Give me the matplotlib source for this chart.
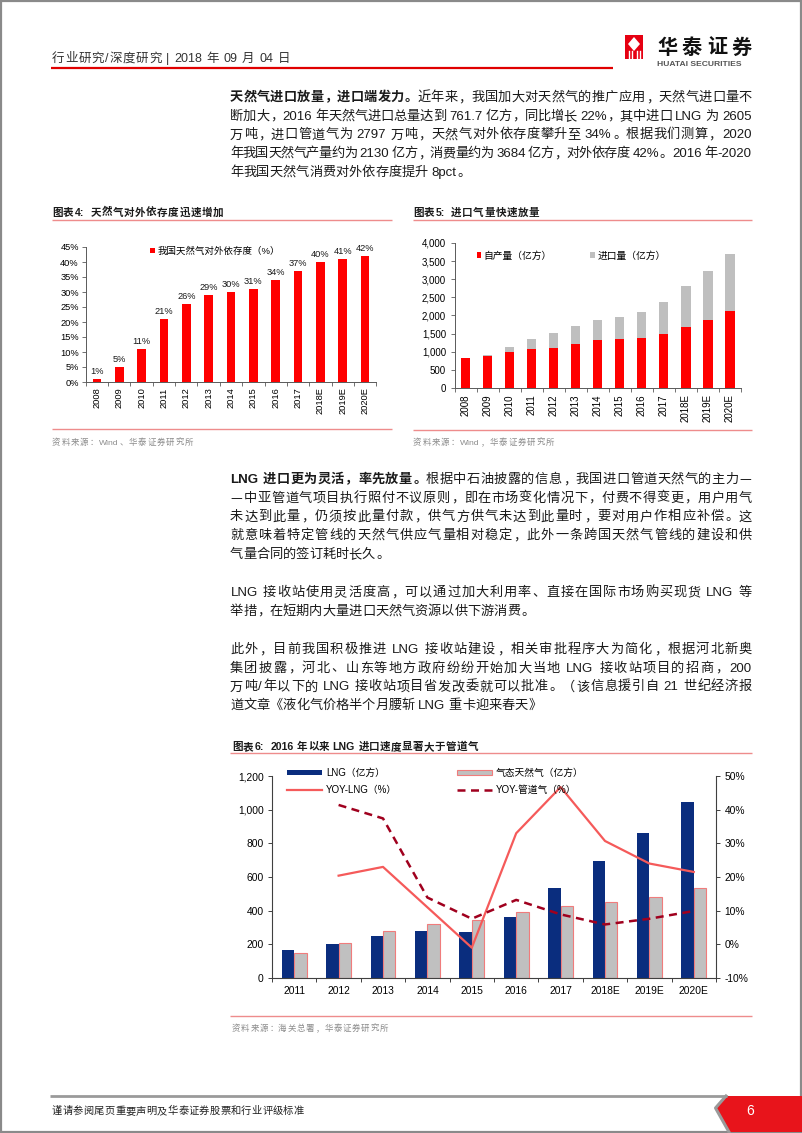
import numpy as np
import matplotlib
matplotlib.use('Agg')
import matplotlib.pyplot as plt
from matplotlib.patches import Patch, Rectangle, Polygon
from matplotlib.lines import Line2D

# ---------------- data ----------------
years_dep = ['2008', '2009', '2010', '2011', '2012', '2013', '2014', '2015',
             '2016', '2017', '2018E', '2019E', '2020E']
dependence_pct = [1, 5, 11, 21, 26, 29, 30, 31, 34, 37, 40, 41, 42]
dep_ticks = [0, 5, 10, 15, 20, 25, 30, 35, 40, 45]

years_supply = years_dep
production = [837, 892, 993, 1085, 1113, 1223, 1315, 1361, 1379, 1490, 1674, 1885, 2130]
imports = [0, 28, 129, 276, 395, 497, 570, 607, 727, 892, 1140, 1333, 1554]
supply_ticks = [0, 500, 1000, 1500, 2000, 2500, 3000, 3500, 4000]

years_lng = ['2011', '2012', '2013', '2014', '2015', '2016', '2017', '2018E', '2019E', '2020E']
lng = [168, 204, 251, 277, 273, 362, 534, 696, 860, 1046]
pipe_gas = [146, 206, 281, 322, 346, 391, 427, 453, 484, 534]
yoy_lng = [np.nan, 20.4, 23.0, 11.0, -1.0, 33.0, 46.7, 30.7, 24.0, 21.5]
yoy_pipe = [np.nan, 41.4, 37.4, 13.9, 7.6, 13.2, 8.9, 5.9, 7.6, 9.9]
lng_ticks = [0, 200, 400, 600, 800, 1000, 1200]
yoy_ticks = [-10, 0, 10, 20, 30, 40, 50]

# ---------------- page setup ----------------
W, H = 802, 1133
plt.rcParams['font.family'] = ['Liberation Sans', 'Noto Sans CJK SC']
plt.rcParams['axes.unicode_minus'] = False
fig = plt.figure(figsize=(W / 100, H / 100), dpi=100)
renderer = fig.canvas.get_renderer()

CJK = ['Noto Sans CJK SC']
LAT = ['Liberation Sans', 'Noto Sans CJK SC']
RED = '#FF0000'
GREY_BAR = '#BFBFBF'
NAVY = '#0A2D7E'
RULE = '#EE8C8C'
TXT = '#1a1a1a'


def fx(px):
    return px / W


def fy(py):
    return 1 - py / H


def is_wide(c):
    o = ord(c)
    return o >= 0x2E80 or c in '\u2014\u201c\u201d\u2018\u2019\u2026'


LEFT_P = set('，。、：；！？）》」')
RIGHT_P = set('（《「')


def tokenize(segs):
    toks = []
    for text, bold in segs:
        buf = ''
        for c in text:
            if c == ' ':
                if buf:
                    toks.append(('lat', buf, bold))
                    buf = ''
                toks.append(('sp', ' ', bold))
            elif is_wide(c):
                if buf:
                    toks.append(('lat', buf, bold))
                    buf = ''
                toks.append(('cjk', c, bold))
            else:
                buf += c
        if buf:
            toks.append(('lat', buf, bold))
    return toks


def draw_line(x0, ycen, segs, size, target=None, color=TXT):
    em = size * 100 / 72
    ybase = ycen + 0.38 * em
    toks = tokenize(segs)
    widths, arts = [], []
    for kind, s, bold in toks:
        if kind == 'cjk':
            widths.append(em)
            arts.append(None)
        elif kind == 'sp':
            widths.append(0.22 * em)
            arts.append(None)
        else:
            t = fig.text(0, 0, s, fontsize=size, family=LAT,
                         weight='bold' if bold else 'normal', color=color,
                         ha='left', va='baseline')
            bb = t.get_window_extent(renderer)
            widths.append(bb.width + 0.08 * em)
            arts.append(t)
    extra = 0.0
    if target is not None and len(toks) > 1:
        extra = (target - sum(widths)) / (len(toks) - 1)
    x = x0
    for (kind, s, bold), w, a in zip(toks, widths, arts):
        wt = 'bold' if bold else 'normal'
        if kind == 'cjk':
            if s in LEFT_P:
                fig.text(fx(x + 0.06 * em), fy(ybase), s, fontsize=size, family=CJK,
                         weight=wt, ha='left', va='baseline', color=color)
            elif s in RIGHT_P:
                fig.text(fx(x + w - 0.06 * em), fy(ybase), s, fontsize=size, family=CJK,
                         weight=wt, ha='right', va='baseline', color=color)
            else:
                fig.text(fx(x + w / 2), fy(ybase), s, fontsize=size, family=CJK,
                         weight=wt, ha='center', va='baseline', color=color)
        elif kind == 'lat':
            a.set_position((fx(x + 0.04 * em), fy(ybase)))
        x += w + extra


def hline(x0, x1, y, color, lw):
    fig.add_artist(Line2D([fx(x0), fx(x1)], [fy(y), fy(y)], transform=fig.transFigure,
                          color=color, lw=lw, solid_capstyle='butt'))


# page border
fig.add_artist(Rectangle((0.0008, 0.0008), 0.9984, 0.9984, transform=fig.transFigure,
                         fill=False, edgecolor='#8a8a8a', lw=1.6))

# ---------------- header ----------------
draw_line(52, 57, [('行业研究/深度研究 | 2018 年 09 月 04 日', False)], 9, target=238, color='#333333')
hline(51, 613, 67.5, '#E00000', 1.6)

# logo
fig.add_artist(Rectangle((fx(625), fy(59)), 18 / W, 24 / H, transform=fig.transFigure,
                         facecolor='#E60012', edgecolor='none'))
fig.add_artist(Polygon([(fx(634), fy(37)), (fx(640), fy(44)), (fx(634), fy(51)), (fx(628), fy(44))],
                       closed=True, transform=fig.transFigure, facecolor='white', edgecolor='none'))
for xx in (628.5, 631.5, 636.5, 639.5):
    fig.add_artist(Line2D([fx(xx), fx(xx)], [fy(51), fy(59)], transform=fig.transFigure,
                          color='white', lw=1.0))
draw_line(657, 46, [('华泰证券', True)], 14.5, target=95, color='#111111')
fig.text(fx(657), fy(65), 'HUATAI SECURITIES', fontsize=6.1, weight='bold',
         color='#555555', ha='left', va='center', family=LAT)

# ---------------- paragraph 1 ----------------
BODY = 9.5
P = 18.7
para1 = [
    [('天然气进口放量，进口端发力。', True), ('近年来，我国加大对天然气的推广应用，天然气进口量不', False)],
    [('断加大，2016 年天然气进口总量达到 761.7 亿方，同比增长 22%，其中进口 LNG 为 2605', False)],
    [('万吨，进口管道气为 2797 万吨，天然气对外依存度攀升至 34%。根据我们测算，2020', False)],
    [('年我国天然气产量约为 2130 亿方，消费量约为 3684 亿方，对外依存度 42%。2016 年-2020', False)],
    [('年我国天然气消费对外依存度提升 8pct。', False)],
]
for i, segs in enumerate(para1):
    draw_line(230, 96 + i * P, segs, BODY, target=None if i == len(para1) - 1 else 522)

# ---------------- chart 4 ----------------
draw_line(52, 211.5, [('图表4:  天然气对外依存度迅速增加', True)], 7.6, target=171)
hline(52, 392, 219.5, RULE, 1.0)
ax4 = fig.add_axes([fx(85.8), fy(382), (376.2 - 85.8) / W, (382 - 247) / H])
x4 = np.arange(len(years_dep))
ax4.bar(x4, dependence_pct, width=0.4, color=RED, zorder=2)
for xi, v in zip(x4, dependence_pct):
    ax4.annotate(f'{v}%', (xi, v), xytext=(0, 2.5), textcoords='offset points',
                 ha='center', va='bottom', fontsize=6.7, color=TXT)
ax4.set_xlim(-0.5, len(years_dep) - 0.5)
ax4.set_ylim(0, 45)
ax4.set_yticks(dep_ticks)
ax4.set_yticklabels([f'{v}%' for v in dep_ticks])
ax4.set_xticks(x4)
ax4.set_xticklabels(years_dep, rotation=90)
ax4.set_xticks(np.arange(-0.5, len(years_dep), 1), minor=True)
ax4.tick_params(axis='x', which='major', length=0, pad=4, labelsize=6.7)
ax4.tick_params(axis='x', which='minor', length=3, width=0.6, color='#595959')
ax4.tick_params(axis='y', length=3, width=0.6, color='#595959', pad=2, labelsize=6.7)
for s in ('top', 'right'):
    ax4.spines[s].set_visible(False)
for s in ('left', 'bottom'):
    ax4.spines[s].set_color('#595959')
    ax4.spines[s].set_linewidth(0.7)
ax4.legend(handles=[Patch(facecolor=RED, label='我国天然气对外依存度（%）')],
           loc='upper left', bbox_to_anchor=(fx(150), fy(246.5)), bbox_transform=fig.transFigure,
           frameon=False, fontsize=6.8, handlelength=0.55, handleheight=0.55,
           handletextpad=0.3, borderpad=0, borderaxespad=0)
hline(52, 392, 428.5, RULE, 1.0)
draw_line(52, 442, [('资料来源：Wind、华泰证券研究所', False)], 6.1, target=141, color='#8c8c8c')

# ---------------- chart 5 ----------------
draw_line(413, 211.5, [('图表5:  进口气量快速放量', True)], 7.6, target=126)
hline(413, 752, 219.5, RULE, 1.0)
ax5 = fig.add_axes([fx(454.5), fy(388), (741 - 454.5) / W, (388 - 243) / H])
x5 = np.arange(len(years_supply))
ax5.bar(x5, production, width=0.42, color=RED, zorder=2, label='自产量（亿方）')
ax5.bar(x5, imports, width=0.42, bottom=production, color=GREY_BAR, zorder=2, label='进口量（亿方）')
ax5.set_xlim(-0.5, len(years_supply) - 0.5)
ax5.set_ylim(0, 4000)
ax5.set_yticks(supply_ticks)
ax5.set_yticklabels([f'{v:,}' for v in supply_ticks])
ax5.set_xticks(x5)
ax5.set_xticklabels(years_supply, rotation=90)
ax5.set_xticks(np.arange(-0.5, len(years_supply), 1), minor=True)
ax5.tick_params(axis='x', which='major', length=0, pad=4.5, labelsize=7)
ax5.tick_params(axis='x', which='minor', length=3, width=0.6, color='#595959')
ax5.tick_params(axis='y', length=3, width=0.6, color='#595959', pad=3, labelsize=7)
for s in ('top', 'right'):
    ax5.spines[s].set_visible(False)
for s in ('left', 'bottom'):
    ax5.spines[s].set_color('#595959')
    ax5.spines[s].set_linewidth(0.7)
ax5.legend(loc='upper left', bbox_to_anchor=(fx(476.5), fy(250.5)), bbox_transform=fig.transFigure,
           ncol=2, frameon=False, fontsize=7, handlelength=0.5, handleheight=0.5,
           handletextpad=0.25, columnspacing=3.9, borderpad=0, borderaxespad=0)
hline(413, 752, 429.5, RULE, 1.0)
draw_line(413, 442, [('资料来源：Wind，华泰证券研究所', False)], 6.1, target=141, color='#8c8c8c')

# ---------------- paragraphs 2-4 ----------------
para2 = [
    [('LNG 进口更为灵活，率先放量。', True), ('根据中石油披露的信息，我国进口管道天然气的主力—', False)],
    [('—中亚管道气项目执行照付不议原则，即在市场变化情况下，付费不得变更，用户用气', False)],
    [('未达到此量，仍须按此量付款，供气方供气未达到此量时，要对用户作相应补偿。这', False)],
    [('就意味着特定管线的天然气供应气量相对稳定，此外一条跨国天然气管线的建设和供', False)],
    [('气量合同的签订耗时长久。', False)],
]
para3 = [
    [('LNG 接收站使用灵活度高，可以通过加大利用率、直接在国际市场购买现货 LNG 等', False)],
    [('举措，在短期内大量进口天然气资源以供下游消费。', False)],
]
para4 = [
    [('此外，目前我国积极推进 LNG 接收站建设，相关审批程序大为简化，根据河北新奥', False)],
    [('集团披露，河北、山东等地方政府纷纷开始加大当地 LNG 接收站项目的招商，200', False)],
    [('万吨/年以下的 LNG 接收站项目省发改委就可以批准。（该信息援引自 21 世纪经济报', False)],
    [('道文章《液化气价格半个月腰斩 LNG 重卡迎来春天》', False)],
]
for start, para in ((478, para2), (591, para3), (648, para4)):
    for i, segs in enumerate(para):
        draw_line(230, start + i * P, segs, BODY, target=None if i == len(para) - 1 else 522)

# ---------------- chart 6 ----------------
draw_line(232, 746, [('图表6:  2016 年以来 LNG 进口速度显著大于管道气', True)], 7.6, target=246)
hline(230, 752, 752.5, RULE, 1.0)
ax6 = fig.add_axes([fx(272), fy(978), (716 - 272) / W, (978 - 776) / H])
x6 = np.arange(len(years_lng))
bw = 0.28
ax6.bar(x6 - bw / 2, lng, width=bw, color=NAVY, zorder=2)
ax6.bar(x6 + bw / 2, pipe_gas, width=bw, color='#C0C0C0', edgecolor='#F07C7C', linewidth=0.8, zorder=2)
ax6.set_xlim(-0.5, len(years_lng) - 0.5)
ax6.set_ylim(0, 1200)
ax6.set_yticks(lng_ticks)
ax6.set_yticklabels([f'{v:,}' for v in lng_ticks])
ax6.set_xticks(x6)
ax6.set_xticklabels(years_lng)
ax6.set_xticks(np.arange(-0.5, len(years_lng), 1), minor=True)
ax6.tick_params(axis='x', which='major', length=0, pad=6, labelsize=7.4)
ax6.tick_params(axis='x', which='minor', length=3, width=0.7, color='#404040')
ax6.tick_params(axis='y', length=3, width=0.7, color='#404040', pad=3, labelsize=7.4)
ax6.spines['top'].set_visible(False)
ax6.spines['right'].set_visible(False)
for s in ('left', 'bottom'):
    ax6.spines[s].set_color('#404040')
    ax6.spines[s].set_linewidth(0.8)

ax6r = ax6.twinx()
ax6r.plot(x6, yoy_lng, color='#F55A5A', lw=1.6, zorder=3)
ax6r.plot(x6, yoy_pipe, color='#A0001E', lw=1.8, linestyle=(0, (3.2, 2.2)), zorder=3)
ax6r.set_ylim(-10, 50)
ax6r.set_yticks(yoy_ticks)
ax6r.set_yticklabels([f'{v}%' for v in yoy_ticks])
ax6r.tick_params(axis='y', length=3, width=0.7, color='#404040', pad=3, labelsize=7.4)
for s in ('top', 'left', 'bottom'):
    ax6r.spines[s].set_visible(False)
ax6r.spines['right'].set_color('#404040')
ax6r.spines['right'].set_linewidth(0.8)

h6 = [Patch(facecolor=NAVY, label='LNG（亿方）'),
      Line2D([], [], color='#F55A5A', lw=1.6, label='YOY-LNG（%）'),
      Patch(facecolor='#C0C0C0', edgecolor='#F07C7C', linewidth=0.8, label='气态天然气（亿方）'),
      Line2D([], [], color='#A0001E', lw=1.8, linestyle=(0, (3.2, 2.2)), label='YOY-管道气（%）')]
ax6r.legend(handles=h6, loc='upper left', bbox_to_anchor=(fx(287), fy(768)),
            bbox_transform=fig.transFigure, ncol=2, frameon=False, fontsize=7,
            handlelength=3.6, handleheight=0.5, handletextpad=0.4, columnspacing=6.2,
            labelspacing=0.75, borderpad=0, borderaxespad=0)
hline(230, 752, 1015.5, RULE, 1.0)
draw_line(232, 1028, [('资料来源：海关总署，华泰证券研究所', False)], 6.1, target=156, color='#8c8c8c')

# ---------------- footer ----------------
hline(50, 727, 1096, '#9a9a9a', 2.0)
tab = [(fx(726), fy(1096)), (fx(802), fy(1096)), (fx(802), fy(1132)), (fx(729), fy(1132)), (fx(716), fy(1108))]
fig.add_artist(Polygon(tab, closed=True, transform=fig.transFigure, facecolor='#E8141B', edgecolor='none'))
fig.add_artist(Line2D([fx(726), fx(715.5), fx(729)], [fy(1096), fy(1108), fy(1132)],
                      transform=fig.transFigure, color='#9a9a9a', lw=2.2))
fig.text(fx(750), fy(1111), '6', color='white', fontsize=10, ha='center', va='center', family=LAT)
draw_line(52, 1110, [('谨请参阅尾页重要声明及华泰证券股票和行业评级标准', False)], 7.4, target=252, color='#222222')

fig.savefig('out.png', dpi=100)
